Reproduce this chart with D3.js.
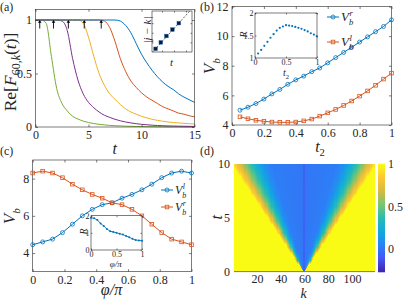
<!DOCTYPE html>
<html>
<head>
<meta charset="utf-8">
<script src="https://cdn.jsdelivr.net/npm/d3@7"></script>
<style>
body { margin: 0; background: #fff; }
svg { display: block; font-family: "Liberation Serif", "Times New Roman", serif; }
</style>
</head>
<body>
<svg id="fig" width="407" height="300"></svg>
<script>
// ---------- data ----------
// (a) Re F_{60,k}(t) for five sites
const tA = [0,0.5,1,1.5,2,2.5,3,3.5,4,4.5,5,5.5,6,6.5,7,7.5,8,8.5,9,9.5,10,10.5,11,11.5,12,12.5,13,13.5,14,14.5,15];
const fGreen  = [1,1,0.97,0.66,0.36,0.22,0.15,0.1,0.075,0.055,0.042,0.032,0.025,0.02,0.015,0.012,0.01,0.008,0.006,0.005,0.004,0.003,0.003,0.002,0.002,0.001,0.001,0.001,0,0,0];
const fPurple = [1,1,1,1,1,0.99,0.9,0.64,0.44,0.31,0.23,0.18,0.14,0.11,0.09,0.072,0.058,0.047,0.038,0.031,0.025,0.021,0.017,0.014,0.012,0.01,0.009,0.008,0.007,0.006,0.005];
const fYellow = [1,1,1,1,1,1,1,1,1,0.97,0.84,0.66,0.5,0.39,0.31,0.26,0.21,0.17,0.14,0.12,0.1,0.085,0.072,0.062,0.054,0.047,0.042,0.038,0.034,0.031,0.028];
const fOrange = [1,1,1,1,1,1,1,1,1,1,1,1,1,0.99,0.93,0.8,0.64,0.52,0.43,0.37,0.32,0.28,0.25,0.22,0.19,0.17,0.15,0.13,0.12,0.105,0.095];
const fBlue   = [1,1,1,1,1,1,1,1,1,1,1,1,1,1,1,1,0.99,0.95,0.88,0.78,0.68,0.6,0.53,0.47,0.42,0.38,0.35,0.31,0.28,0.255,0.23];
const arrowT = [0.4, 1.7, 3.1, 4.6, 6.2];
const insetDk = [5, 15, 25, 35, 45];

// (b) boundary velocities vs t2
const t2 = [0.05,0.1,0.15,0.2,0.25,0.3,0.35,0.4,0.45,0.5,0.55,0.6,0.65,0.7,0.75,0.8,0.85,0.9,0.95,1];
const vbRight = [5.0,5.2,5.45,5.75,6.1,6.4,6.75,7.05,7.3,7.6,7.85,8.2,8.55,8.9,9.25,9.6,9.95,10.3,10.65,11.1];
const vbLeft  = [4.55,4.42,4.32,4.25,4.2,4.18,4.18,4.2,4.28,4.4,4.6,4.82,5.05,5.32,5.62,5.95,6.3,6.68,7.1,7.5];
const ratioB  = [1.1,1.18,1.27,1.36,1.45,1.53,1.61,1.67,1.7,1.73,1.72,1.71,1.69,1.67,1.65,1.62,1.59,1.55,1.52,1.48];

// (c) boundary velocities vs phi/pi
const phi = [0,0.0625,0.125,0.1875,0.25,0.3125,0.375,0.4375,0.5,0.5625,0.625,0.6875,0.75,0.8125,0.875,0.9375,1];
const vcLeft  = [4.45,4.6,4.75,5.1,5.55,6.0,6.35,6.6,6.7,6.95,7.15,7.4,7.7,8.05,8.3,8.4,8.3];
const vcRight = [8.3,8.4,8.3,8.05,7.7,7.4,7.15,6.95,6.7,6.6,6.35,6.0,5.55,5.1,4.75,4.6,4.45];
const ratioC  = [1.88,1.85,1.75,1.55,1.4,1.22,1.1,1.05,1.0,0.95,0.9,0.82,0.74,0.65,0.58,0.56,0.54];

// (d) light cone: value of Re F reached at distance |k-60| when t = 10
const coneDk  = [0, 1, 28, 34, 38, 42, 45, 49, 52, 55, 58, 61];
const coneVal = [-0.06, 0.0, 0.03, 0.1, 0.2, 0.3, 0.4, 0.52, 0.64, 0.76, 0.86, 1.0];
const cbTicks = [0, 0.5, 1];

// ---------- helpers ----------
const svg = d3.select("#fig");
const ink = "#262626";
const blue = "#0072BD", orange = "#D95319";
const parulaStops = ["rgb(62,38,168)","rgb(70,84,245)","rgb(42,132,246)","rgb(16,170,222)","rgb(40,188,178)",
                     "rgb(120,198,112)","rgb(212,188,66)","rgb(253,198,52)","rgb(249,251,20)"];

function fixAxis(g) {
  g.attr("font-family", null).attr("font-size", null);
  g.selectAll(".tick text").attr("fill", ink);
}

function axes(g, x, y, xt, yt, fs, tick, xfmt, yfmt, pad) {
  const [x0, x1] = x.range(), [y0, y1] = y.range();
  g.append("g").attr("transform", `translate(0,${y0})`)
    .call(d3.axisBottom(x).tickValues(xt).tickSizeInner(-tick).tickSizeOuter(0).tickPadding(pad).tickFormat(xfmt)).call(fixAxis);
  g.append("g").attr("transform", `translate(0,${y1})`)
    .call(d3.axisTop(x).tickValues(xt).tickSizeInner(-tick).tickSizeOuter(0).tickFormat("")).call(fixAxis);
  g.append("g").attr("transform", `translate(${x0},0)`)
    .call(d3.axisLeft(y).tickValues(yt).tickSizeInner(-tick).tickSizeOuter(0).tickPadding(pad).tickFormat(yfmt)).call(fixAxis);
  g.append("g").attr("transform", `translate(${x1},0)`)
    .call(d3.axisRight(y).tickValues(yt).tickSizeInner(-tick).tickSizeOuter(0).tickFormat("")).call(fixAxis);
  g.selectAll(".domain").remove();
  g.selectAll(".tick line").attr("stroke", ink).attr("stroke-width", 0.6);
  g.selectAll(".tick text").attr("font-size", fs);
  g.append("rect").attr("x", x0).attr("y", y1).attr("width", x1 - x0).attr("height", y0 - y1)
    .attr("fill", "none").attr("stroke", ink).attr("stroke-width", 0.6);
}

function vSymbol(parent, sup, size) {
  const g = parent.append("g").attr("fill", ink).attr("font-style", "italic");
  const v = g.append("text").attr("font-size", size).text("V");
  const w = v.node().getComputedTextLength();
  g.append("text").attr("x", w).attr("y", size * 0.3).attr("font-size", size * 0.66).text("b");
  if (sup) g.append("text").attr("x", w + 0.5).attr("y", -size * 0.4).attr("font-size", size * 0.66).text(sup);
  return g;
}

function centred(cx, cy, rot, build) {
  const wrap = svg.append("g");
  const inner = build(wrap);
  const bb = inner.node().getBBox();
  inner.attr("transform", `translate(${-bb.x - bb.width / 2},${-bb.y - bb.height / 2})`);
  wrap.attr("transform", `translate(${cx},${cy}) rotate(${rot})`);
}

function tSub(parent, sub, size) {
  const g = parent.append("g").attr("fill", ink);
  const t = g.append("text").attr("font-size", size).attr("font-style", "italic").text("t");
  const w = t.node().getComputedTextLength();
  if (sub) g.append("text").attr("x", w).attr("y", size * 0.3).attr("font-size", size * 0.66).text(sub);
  return g;
}

function panelLabel(x, y, s) {
  svg.append("text").attr("x", x).attr("y", y).attr("font-size", 12).attr("fill", ink).text(s);
}

// ---------- (a) ----------
const xa = d3.scaleLinear([0, 15], [35.5, 194.5]);
const ya = d3.scaleLinear([0, 1.1], [127, 9.3]);
const ga = svg.append("g");
const seriesA = [fGreen, fPurple, fYellow, fOrange, fBlue];
const coloursA = ["#77AC30", "#7E2F8E", "#EDB120", "#D95319", "#0072BD"];
const lineA = d3.line().x((d, i) => xa(tA[i])).y(d => ya(d)).curve(d3.curveMonotoneX);
seriesA.forEach((s, i) => {
  ga.append("path").attr("d", lineA(s)).attr("fill", "none").attr("stroke", coloursA[i]).attr("stroke-width", 1);
});
arrowT.forEach(t => {
  const x = xa(t);
  ga.append("line").attr("x1", x).attr("x2", x).attr("y1", ya(0.92)).attr("y2", ya(0.985))
    .attr("stroke", "#000").attr("stroke-width", 0.9);
  ga.append("path").attr("d", `M${x - 1.8},${ya(0.975)}L${x},${ya(1.0)}L${x + 1.8},${ya(0.975)}Z`).attr("fill", "#000");
});
axes(ga, xa, ya, [0, 5, 10, 15], [0, 0.5, 1], 12, 2.5, d3.format("d"), d => d, 3.5);
panelLabel(0, 11, "(a)");
centred(115, 148, 0, p => tSub(p, null, 16));
centred(11, 72, -90, p => {
  const t = p.append("text").attr("font-size", 17.5).attr("fill", ink);
  t.append("tspan").text("Re[");
  t.append("tspan").attr("font-style", "italic").text("F");
  t.append("tspan").attr("font-size", 12).attr("dy", 4).text("60,");
  t.append("tspan").attr("font-size", 12).attr("font-style", "italic").text("k");
  t.append("tspan").attr("dy", -4).text("(");
  t.append("tspan").attr("font-style", "italic").text("t");
  t.append("tspan").text(")]");
  return t;
});

// inset (a)
const xia = d3.scaleLinear([-0.5, 9.5], [152, 192]);
const yia = d3.scaleLinear([0, 64], [52, 11]);
const gia = svg.append("g");
gia.append("rect").attr("x", 152).attr("y", 11).attr("width", 40).attr("height", 41).attr("fill", "#fff");
gia.append("clipPath").attr("id", "clipA").append("rect").attr("x", 152).attr("y", 11).attr("width", 40).attr("height", 41);
const slope = (insetDk[4] - insetDk[0]) / (arrowT[4] - arrowT[0]);
const fit = t => insetDk[0] + slope * (t - arrowT[0]);
gia.append("line").attr("clip-path", "url(#clipA)")
  .attr("x1", xia(-0.5)).attr("y1", yia(fit(-0.5))).attr("x2", xia(9.5)).attr("y2", yia(fit(9.5)))
  .attr("stroke", "#333").attr("stroke-width", 0.8).attr("stroke-dasharray", "2,1.6");
gia.selectAll("rect.pt").data(arrowT).join("rect").attr("class", "pt")
  .attr("x", d => xia(d) - 1.8).attr("y", (d, i) => yia(insetDk[i]) - 1.8)
  .attr("width", 3.6).attr("height", 3.6).attr("fill", "#0a1a3a").attr("stroke", "#1f5fa8").attr("stroke-width", 0.5);
axes(gia, xia, yia, [2, 5, 8], [15, 30, 45], 8, 1.5, () => "", () => "", 1);
centred(172, 62, 0, p => tSub(p, null, 11));
centred(146.5, 30, -90, p => p.append("text").attr("font-size", 11).attr("font-style", "italic").attr("fill", ink).text("|j − k|"));

// ---------- (b) ----------
const xb = d3.scaleLinear([0, 1], [232, 391.5]);
const yb = d3.scaleLinear([4, 12], [125, 6.5]);
const gb = svg.append("g");
axes(gb, xb, yb, [0, 0.2, 0.4, 0.6, 0.8, 1], [4, 6, 8, 10, 12], 12, 2.5, d => d, d => d, 3.5);
const lineB = vals => d3.line().x((d, i) => xb(t2[i])).y(d => yb(d))(vals);
gb.append("path").attr("d", lineB(vbRight)).attr("fill", "none").attr("stroke", blue).attr("stroke-width", 1);
gb.selectAll("circle.r").data(vbRight).join("circle").attr("class", "r")
  .attr("cx", (d, i) => xb(t2[i])).attr("cy", d => yb(d)).attr("r", 2)
  .attr("fill", "none").attr("stroke", blue).attr("stroke-width", 0.8);
gb.append("path").attr("d", lineB(vbLeft)).attr("fill", "none").attr("stroke", orange).attr("stroke-width", 1);
gb.selectAll("rect.l").data(vbLeft).join("rect").attr("class", "l")
  .attr("x", (d, i) => xb(t2[i]) - 1.8).attr("y", d => yb(d) - 1.8).attr("width", 3.6).attr("height", 3.6)
  .attr("fill", "none").attr("stroke", orange).attr("stroke-width", 0.8);
panelLabel(200, 11, "(b)");
centred(320, 148, 0, p => tSub(p, "2", 16));
centred(211, 66, -90, p => vSymbol(p, null, 17));

function legendRow(x, y, colour, marker, sup, size) {
  const g = svg.append("g");
  g.append("line").attr("x1", x).attr("x2", x + 12).attr("y1", y).attr("y2", y).attr("stroke", colour).attr("stroke-width", 1);
  if (marker === "o") g.append("circle").attr("cx", x + 6).attr("cy", y).attr("r", 2).attr("fill", "none").attr("stroke", colour).attr("stroke-width", 0.8);
  else g.append("rect").attr("x", x + 4.2).attr("y", y - 1.8).attr("width", 3.6).attr("height", 3.6).attr("fill", "none").attr("stroke", colour).attr("stroke-width", 0.8);
  const s = vSymbol(g, sup, size);
  s.attr("transform", `translate(${x + 14},${y + 4})`);
}
legendRow(327, 17, blue, "o", "r", 13);
legendRow(327, 42, orange, "s", "l", 13);

// inset (b)
const xib = d3.scaleLinear([0, 1], [255, 317]);
const yib = d3.scaleLinear([1, 2], [58, 13]);
const gib = svg.append("g");
gib.append("rect").attr("x", 255).attr("y", 13).attr("width", 62).attr("height", 45).attr("fill", "#fff");
axes(gib, xib, yib, [0, 0.5, 1], [1, 1.5, 2], 8, 1.5, d => d, d => d, 1.5);
gib.selectAll("circle").data(ratioB).join("circle")
  .attr("cx", (d, i) => xib(t2[i])).attr("cy", d => yib(d)).attr("r", 1.1).attr("fill", blue);
centred(286, 73.5, 0, p => tSub(p, "2", 10));
centred(243, 35, -90, p => p.append("text").attr("font-size", 10).attr("font-style", "italic").attr("fill", ink).text("R"));

// ---------- (c) ----------
const xc = d3.scaleLinear([0, 1], [32.7, 191.5]);
const yc = d3.scaleLinear([3, 9], [271.7, 160]);
const gc = svg.append("g");
axes(gc, xc, yc, [0, 0.2, 0.4, 0.6, 0.8, 1], [4, 6, 8], 12, 2.5, d => d, d => d, 3.5);
const lineC = vals => d3.line().x((d, i) => xc(phi[i])).y(d => yc(d))(vals);
gc.append("path").attr("d", lineC(vcLeft)).attr("fill", "none").attr("stroke", blue).attr("stroke-width", 1);
gc.selectAll("circle.l").data(vcLeft).join("circle").attr("class", "l")
  .attr("cx", (d, i) => xc(phi[i])).attr("cy", d => yc(d)).attr("r", 2)
  .attr("fill", "none").attr("stroke", blue).attr("stroke-width", 0.8);
gc.append("path").attr("d", lineC(vcRight)).attr("fill", "none").attr("stroke", orange).attr("stroke-width", 1);
gc.selectAll("rect.r").data(vcRight).join("rect").attr("class", "r")
  .attr("x", (d, i) => xc(phi[i]) - 1.8).attr("y", d => yc(d) - 1.8).attr("width", 3.6).attr("height", 3.6)
  .attr("fill", "none").attr("stroke", orange).attr("stroke-width", 0.8);
panelLabel(0, 155, "(c)");
centred(112, 290, 0, p => p.append("text").attr("font-size", 16).attr("font-style", "italic").attr("fill", ink).text("φ/π"));
centred(11, 216, -90, p => vSymbol(p, null, 17));
legendRow(161, 190, blue, "o", "l", 12);
legendRow(161, 207, orange, "s", "r", 12);

// inset (c)
const xic = d3.scaleLinear([0, 1], [91, 142]);
const yic = d3.scaleLinear([0, 2], [250, 215.7]);
const gic = svg.append("g");
gic.append("rect").attr("x", 91).attr("y", 215.7).attr("width", 51).attr("height", 34.3).attr("fill", "#fff");
axes(gic, xic, yic, [0, 0.5, 1], [0, 1, 2], 8, 1.5, d => d, d => d, 1.5);
gic.append("path").attr("d", d3.line().x((d, i) => xic(phi[i])).y(d => yic(d))(ratioC))
  .attr("fill", "none").attr("stroke", blue).attr("stroke-width", 0.9);
gic.selectAll("circle").data(ratioC).join("circle")
  .attr("cx", (d, i) => xic(phi[i])).attr("cy", d => yic(d)).attr("r", 1).attr("fill", blue);
centred(116, 264, 0, p => p.append("text").attr("font-size", 9).attr("font-style", "italic").attr("fill", ink).text("φ/π"));
centred(83, 232, -90, p => p.append("text").attr("font-size", 10).attr("font-style", "italic").attr("fill", ink).text("R"));

// ---------- (d) ----------
const xd = d3.scaleLinear([0.5, 119.5], [234, 375]);
const yd = d3.scaleLinear([0, 10], [272, 164]);
const cb = d3.scaleLinear([-0.27, 1], [272, 164]);
const parula = d3.scaleLinear(d3.range(parulaStops.length).map(i => -0.27 + 1.27 * i / (parulaStops.length - 1)), parulaStops).clamp(true);
const coneScale = d3.scaleLinear(coneDk, coneVal).clamp(true);
const kCells = d3.range(1, 120);
const tRows = d3.range(0, 100).map(i => i * 0.1);

const cw = 141, ch = 108;
const canvas = document.createElement("canvas");
canvas.width = cw; canvas.height = ch;
const ctx = canvas.getContext("2d");
tRows.forEach(t => {
  const yTop = Math.floor(yd(t + 0.1) - 164), yBot = Math.ceil(yd(t) - 164);
  kCells.forEach(k => {
    const dk = Math.abs(k - 60);
    const v = dk === 0 ? coneVal[0] : coneScale(dk * 10 / (t + 0.05));
    ctx.fillStyle = parula(v);
    const xl = Math.floor(xd(k - 0.5) - 234), xr = Math.ceil(xd(k + 0.5) - 234);
    ctx.fillRect(xl, yTop, xr - xl, yBot - yTop);
  });
});
const gd = svg.append("g");
gd.append("image").attr("x", 234).attr("y", 164).attr("width", cw).attr("height", ch)
  .attr("preserveAspectRatio", "none").attr("href", canvas.toDataURL());
gd.append("line").attr("x1", 234).attr("x2", 375).attr("y1", 271.6).attr("y2", 271.6).attr("stroke", "#8a8418").attr("stroke-width", 1);
gd.append("g").attr("transform", "translate(0,272)")
  .call(d3.axisBottom(xd).tickValues([20, 40, 60, 80, 100]).tickSize(0).tickPadding(2.5))
  .call(g => g.select(".domain").remove()).call(fixAxis);
gd.append("g").attr("transform", "translate(234,0)")
  .call(d3.axisLeft(yd).tickValues([0, 5, 10]).tickSize(0).tickPadding(4))
  .call(g => g.select(".domain").remove()).call(fixAxis);
// colourbar
const cbStep = 1.27 / 108;
gd.selectAll("rect.cb").data(d3.range(0, 108).map(i => -0.27 + i * cbStep)).join("rect").attr("class", "cb")
  .attr("x", 378).attr("width", 7).attr("y", d => cb(d + cbStep) - 0.3).attr("height", cb(0) - cb(cbStep) + 0.6)
  .attr("fill", d => parula(d + cbStep / 2));
gd.append("g").attr("transform", "translate(385,0)")
  .call(d3.axisRight(cb).tickValues(cbTicks).tickSize(0).tickPadding(3).tickFormat(d => d))
  .call(g => g.select(".domain").remove()).call(fixAxis);
gd.selectAll(".tick text").attr("font-size", 12);
panelLabel(200, 155, "(d)");
centred(304, 293.5, 0, p => p.append("text").attr("font-size", 14).attr("font-style", "italic").attr("fill", ink).text("k"));
centred(216, 217, -90, p => tSub(p, null, 16));
</script>
</body>
</html>
